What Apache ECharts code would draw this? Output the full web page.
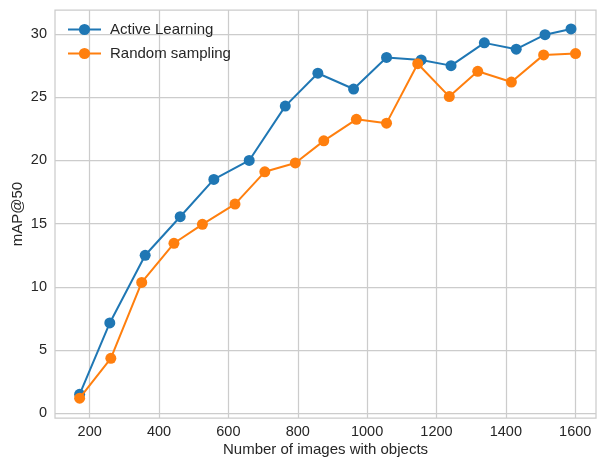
<!DOCTYPE html>
<html>
<head>
<meta charset="utf-8">
<script src="https://cdn.jsdelivr.net/npm/echarts@6/dist/echarts.min.js"></script>
<style>
  html, body { margin: 0; padding: 0; background: #fff; }
  #chart { width: 597px; height: 457px; }
</style>
</head>
<body>
<div id="chart"></div>
<script>
const activeX = [171, 258, 360, 461, 558, 660, 764, 858, 961, 1056, 1156, 1242, 1338, 1430, 1513, 1588];
const activeY = [1.5, 7.15, 12.5, 15.55, 18.5, 20.0, 24.3, 26.9, 25.65, 28.15, 27.95, 27.5, 29.3, 28.8, 29.95, 30.4];
const randomX = [171, 261, 350, 443, 525, 619, 705, 793, 875, 969, 1056, 1146, 1237, 1319, 1416, 1509, 1601];
const randomY = [1.2, 4.35, 10.35, 13.45, 14.95, 16.55, 19.1, 19.8, 21.55, 23.25, 22.95, 27.65, 25.05, 27.05, 26.2, 28.35, 28.45];
const xTicks = [200, 400, 600, 800, 1000, 1200, 1400, 1600];
const yTicks = [0, 5, 10, 15, 20, 25, 30];

const pairs = (xs, ys) => xs.map((x, i) => [x, ys[i]]);

const chart = echarts.init(document.getElementById('chart'), null, { renderer: 'canvas' });

const font = 'Liberation Sans, Arial, sans-serif';

const option = {
  backgroundColor: '#fff',
  animation: false,
  textStyle: { fontFamily: font },
  grid: {
    left: 55,
    top: 10,
    right: 1,
    bottom: 39,
    outerBoundsMode: 'none',
    containLabel: false,
    show: true,
    borderColor: '#cccccc',
    borderWidth: 1.25,
  },
  legend: {
    orient: 'vertical',
    left: 62,
    top: 17,
    itemWidth: 33,
    itemHeight: 14,
    itemGap: 9,
    textStyle: { fontSize: 15, color: '#262626', padding: [0, 0, 0, 4] },
    data: ['Active Learning', 'Random sampling'],
  },
  xAxis: {
    type: 'value',
    min: 100,
    max: 1660,
    name: 'Number of images with objects',
    nameLocation: 'middle',
    nameMoveOverlap: false,
    nameGap: 24,
    nameTextStyle: { fontSize: 15, color: '#262626' },
    axisLine: { show: false },
    axisTick: { show: false, customValues: xTicks },
    axisLabel: {
      customValues: xTicks,
      fontSize: 14.5,
      color: '#262626',
      margin: 6,
      formatter: (v) => String(v),
    },
    splitLine: { show: true, lineStyle: { color: '#cccccc', width: 1.25 } },
  },
  yAxis: {
    type: 'value',
    min: -0.37,
    max: 31.9,
    name: 'mAP@50',
    nameLocation: 'middle',
    nameMoveOverlap: false,
    nameGap: 30,
    nameTextStyle: { fontSize: 15, color: '#262626' },
    axisLine: { show: false },
    axisTick: { show: false, customValues: yTicks },
    axisLabel: {
      customValues: yTicks,
      fontSize: 14.5,
      color: '#262626',
      margin: 8,
      formatter: (v) => String(v),
    },
    splitLine: { show: true, lineStyle: { color: '#cccccc', width: 1.25 } },
  },
  series: [
    {
      name: 'Active Learning',
      type: 'line',
      data: pairs(activeX, activeY),
      symbol: 'circle',
      symbolSize: 11,
      color: '#1f77b4',
      lineStyle: { width: 2 },
      z: 3,
    },
    {
      name: 'Random sampling',
      type: 'line',
      data: pairs(randomX, randomY),
      symbol: 'circle',
      symbolSize: 11,
      color: '#ff7f0e',
      lineStyle: { width: 2 },
      z: 4,
    },
  ],
};

chart.setOption(option);
</script>
</body>
</html>
